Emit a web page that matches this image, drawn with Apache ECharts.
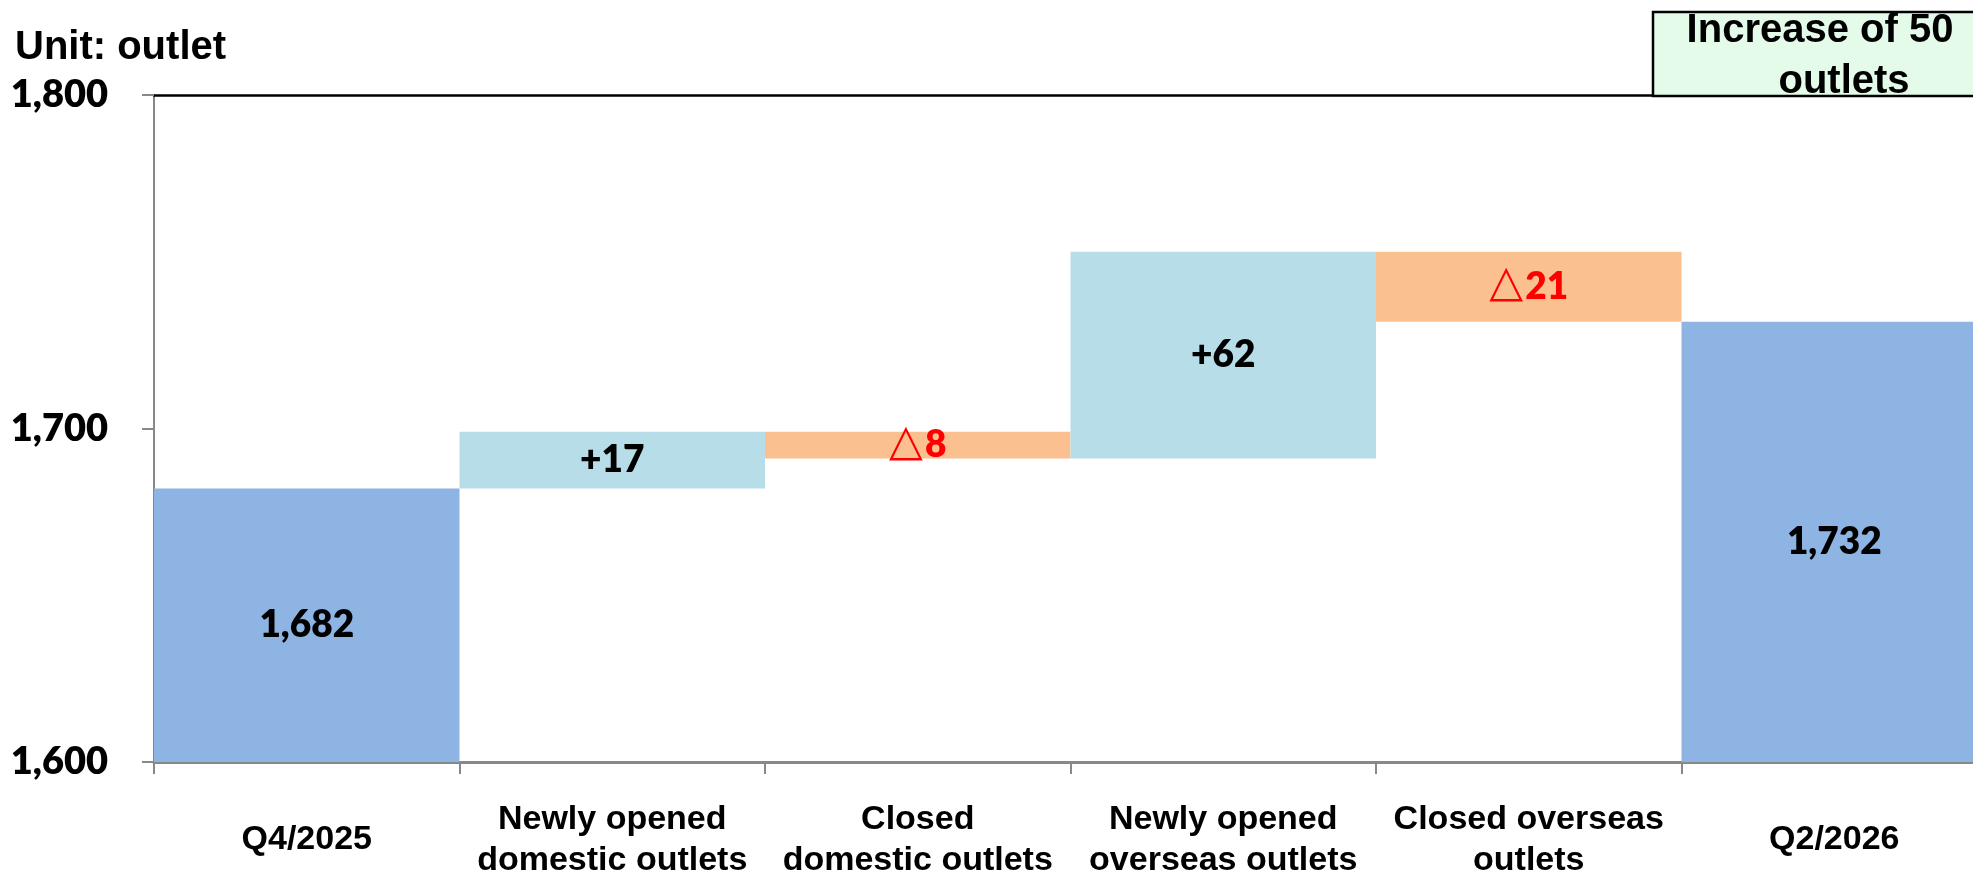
<!DOCTYPE html>
<html>
<head>
<meta charset="utf-8">
<script src="https://cdn.jsdelivr.net/npm/echarts@6/dist/echarts.min.js"></script>
<style>
html,body{margin:0;padding:0;background:#fff;}
#chart{width:1973px;height:879px;}
</style>
</head>
<body>
<div id="chart"></div>
<script>
// ---- data ----
var categories = ['Q4/2025', 'Newly opened\ndomestic outlets', 'Closed\ndomestic outlets', 'Newly opened\noverseas outlets', 'Closed overseas\noutlets', 'Q2/2026'];
var startTotal = 1682;
var changes = [17, -8, 62, -21];
var endTotal = 1732;
var barLabels = ['1,682', '+17', '\u25B38', '+62', '\u25B321', '1,732'];
var yTicks = [1600, 1700, 1800];
var unitText = 'Unit: outlet';
var boxLines = ['Increase of 50', 'outlets'];

// ---- build waterfall (base + visible) ----
var baseVals = [0];
var visVals = [startTotal];
var kinds = ['total'];
var running = startTotal;
changes.forEach(function (d) {
  if (d >= 0) { baseVals.push(running); visVals.push(d); kinds.push('up'); }
  else { baseVals.push(running + d); visVals.push(-d); kinds.push('down'); }
  running += d;
});
baseVals.push(0); visVals.push(endTotal); kinds.push('total');

var colorMap = { total: '#8EB4E3', up: '#B7DEE8', down: '#FAC090' };
var visData = visVals.map(function (v, i) {
  return {
    value: v,
    itemStyle: { color: colorMap[kinds[i]] },
    label: { color: kinds[i] === 'down' ? '#FF0000' : '#000000' }
  };
});

var chart = echarts.init(document.getElementById('chart'), null, { renderer: 'canvas' });
var option = {
  animation: false,
  backgroundColor: '#ffffff',
  grid: { left: 154, top: 95, height: 667, width: 1833, containLabel: false, outerBoundsMode: 'none' },
  xAxis: [{
    type: 'category',
    data: categories,
    position: 'bottom',
    axisLine: { show: true, lineStyle: { color: '#888888', width: 3 } },
    axisTick: { show: true, length: 12, lineStyle: { color: '#888888', width: 2 } },
    axisLabel: {
      interval: 0, color: '#000', fontFamily: 'Liberation Sans, Arial, sans-serif',
      fontWeight: 'bold', fontSize: 34, lineHeight: 41, margin: 78, verticalAlign: 'middle'
    },
    splitLine: { show: false }
  }, {
    type: 'category',
    data: categories,
    position: 'top',
    axisLine: { show: true, lineStyle: { color: '#000000', width: 2.5 } },
    axisTick: { show: false },
    axisLabel: { show: false },
    splitLine: { show: false }
  }],
  yAxis: {
    type: 'value',
    min: yTicks[0], max: yTicks[yTicks.length - 1], interval: yTicks[1] - yTicks[0],
    axisLine: { show: true, lineStyle: { color: '#888888', width: 2 } },
    axisTick: { show: true, length: 12, lineStyle: { color: '#888888', width: 2 } },
    splitLine: { show: false },
    axisLabel: {
      margin: 46, color: '#000', fontFamily: 'Lato, sans-serif', fontWeight: 800, fontSize: 38,
      formatter: function (v) { return v.toLocaleString('en-US'); }
    }
  },
  series: [{
    name: 'base', type: 'bar', stack: 'wf', data: baseVals,
    itemStyle: { color: 'rgba(0,0,0,0)' }, barCategoryGap: '0%', silent: true
  }, {
    name: 'value', type: 'bar', stack: 'wf', data: visData, barCategoryGap: '0%',
    label: {
      show: true, position: 'inside', fontFamily: 'Lato, DejaVu Sans, sans-serif',
      fontWeight: 800, fontSize: 37,
      formatter: function (p) {
        var s = barLabels[p.dataIndex];
        if (s.charAt(0) === '\u25B3') return '{t|\u25B3}{n|' + s.slice(1) + '}';
        return s;
      },
      rich: {
        t: { fontFamily: 'DejaVu Sans, sans-serif', fontSize: 44, fontWeight: 'normal', color: '#FF0000', verticalAlign: 'middle', padding: [0, 2, 4, 0] },
        n: { fontFamily: 'Lato, sans-serif', fontSize: 37, fontWeight: 800, color: '#FF0000', verticalAlign: 'middle' }
      }
    }
  }],
  graphic: [{
    type: 'text', left: 15, top: 28,
    style: { text: unitText, font: 'bold 40px "Liberation Sans", Arial, sans-serif', fill: '#000' }
  }, {
    type: 'rect', z: 10,
    shape: { x: 1653, y: 12, width: 400, height: 84 },
    style: { fill: '#E4FBE9', stroke: '#000', lineWidth: 2.5 }
  }, {
    type: 'text', z: 11, x: 1820, y: 31,
    style: { text: boxLines[0], font: 'bold 40px "Liberation Sans", Arial, sans-serif', fill: '#000', align: 'center', verticalAlign: 'middle' }
  }, {
    type: 'text', z: 11, x: 1844, y: 82,
    style: { text: boxLines[1], font: 'bold 40px "Liberation Sans", Arial, sans-serif', fill: '#000', align: 'center', verticalAlign: 'middle' }
  }]
};
chart.setOption(option);
</script>
</body>
</html>
